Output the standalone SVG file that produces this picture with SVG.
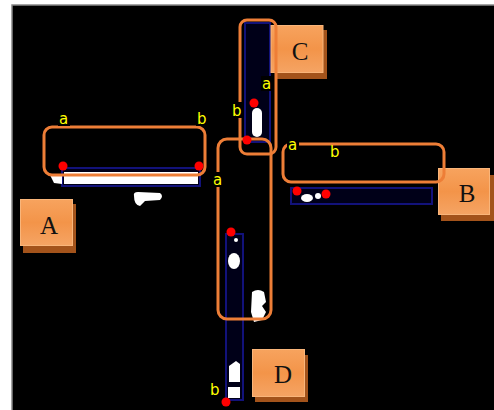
<svg xmlns="http://www.w3.org/2000/svg" width="494" height="410" viewBox="0 0 494 410">
<defs>
<linearGradient id="g" x1="0" y1="0" x2="0" y2="1">
<stop offset="0" stop-color="#f7a35e"/>
<stop offset="0.5" stop-color="#f39449"/>
<stop offset="1" stop-color="#f5a464"/>
</linearGradient>
</defs>
<style>
.lbl{font-family:"DejaVu Sans",Verdana,sans-serif;font-size:15px;fill:#ffff00}
.tag{font-family:"Liberation Serif","Times New Roman",serif;font-size:25px;fill:#111;text-anchor:middle}
.box{fill:url(#g);stroke:#f9b57a;stroke-width:1}
.sh{fill:#a3531b}
.sel{fill:none;stroke:#ee7e37;stroke-width:3}
.strip{fill:#000018;stroke:#12127a;stroke-width:2}
.wh{fill:#ffffff}
.dot{fill:#ff0000}
.lb{fill:#000}
</style>
<rect x="0" y="0" width="494" height="410" fill="#ffffff"/>
<rect x="12" y="5" width="484" height="410" fill="#000000" stroke="#888888" stroke-width="1.5"/>

<g id="strips">
<rect class="strip" x="62" y="168" width="138" height="18"/>
<rect class="wh" x="64" y="172" width="134" height="12"/>
<path class="wh" d="M50,175 L62,174 L62,184 L54,183 Z"/>
<path class="wh" d="M134,196 Q133,192 138,192 L160,193 Q164,196 160,200 L145,201 L140,206 Q134,205 134,196 Z"/>
<rect class="strip" x="245" y="23" width="25" height="119"/>
<rect class="wh" x="252" y="108" width="10" height="29" rx="5"/>
<rect class="strip" x="291" y="188" width="141" height="16"/>
<ellipse class="wh" cx="307" cy="198" rx="6" ry="4"/>
<circle class="wh" cx="318" cy="196" r="3"/>
<rect class="strip" x="226" y="234" width="17" height="166"/>
<circle class="wh" cx="236" cy="240" r="2"/>
<ellipse class="wh" cx="234" cy="261" rx="6" ry="8"/>
<path class="wh" d="M252,292 Q258,288 264,292 L266,302 L262,306 L266,312 L262,320 L254,322 L251,312 Z"/>
<path class="wh" d="M229,366 L236,361 L240,364 L240,382 L229,382 Z"/>
<rect class="wh" x="228" y="387" width="12" height="11"/>
</g>

<g id="A">
<rect class="sh" x="23" y="204" width="53" height="49"/>
<rect class="box" x="20.5" y="199.5" width="52" height="46"/>
<text class="tag" x="49" y="234">A</text>
</g>
<g id="B">
<rect class="sh" x="441" y="175" width="53" height="46"/>
<rect class="box" x="438.5" y="168.5" width="51" height="46"/>
<text class="tag" x="467" y="202">B</text>
</g>
<g id="C">
<rect class="sh" x="275" y="30" width="52" height="49"/>
<rect class="box" x="271" y="25.5" width="52" height="47"/>
<text class="tag" x="300" y="60">C</text>
</g>
<g id="D">
<rect class="sh" x="255" y="355" width="53" height="47"/>
<rect class="box" x="252.5" y="349.5" width="52" height="47"/>
<text class="tag" x="283" y="383">D</text>
</g>

<g id="selections">
<rect class="sel" x="44" y="127" width="161" height="48" rx="8"/>
<rect class="sel" x="240" y="20" width="36" height="134" rx="7"/>
<rect class="sel" x="218" y="139" width="53" height="180" rx="9"/>
<rect class="sel" x="283" y="144" width="161" height="38" rx="8"/>
</g>

<g id="dots">
<circle class="dot" cx="63" cy="166" r="4.5"/>
<circle class="dot" cx="199" cy="166" r="4.5"/>
<circle class="dot" cx="254" cy="103" r="4.5"/>
<circle class="dot" cx="247" cy="140" r="4.5"/>
<circle class="dot" cx="297" cy="191" r="4.5"/>
<circle class="dot" cx="326" cy="194" r="4.5"/>
<circle class="dot" cx="231" cy="232" r="4.5"/>
<circle class="dot" cx="226" cy="402" r="4.5"/>
</g>

<g id="labels">
<rect class="lb" x="58" y="111" width="12" height="15"/><text class="lbl" x="59" y="124">a</text>
<rect class="lb" x="196" y="110" width="12" height="16"/><text class="lbl" x="197" y="124">b</text>
<rect class="lb" x="261" y="76" width="12" height="15"/><text class="lbl" x="262" y="89">a</text>
<rect class="lb" x="231" y="102" width="11" height="16"/><text class="lbl" x="232" y="116">b</text>
<rect class="lb" x="212" y="172" width="12" height="15"/><text class="lbl" x="213" y="185">a</text>
<rect class="lb" x="287" y="139" width="12" height="13"/><text class="lbl" x="288" y="150">a</text>
<rect class="lb" x="329" y="146" width="12" height="12"/><text class="lbl" x="330" y="157">b</text>
<rect class="lb" x="209" y="381" width="12" height="16"/><text class="lbl" x="210" y="395">b</text>
</g>
</svg>
